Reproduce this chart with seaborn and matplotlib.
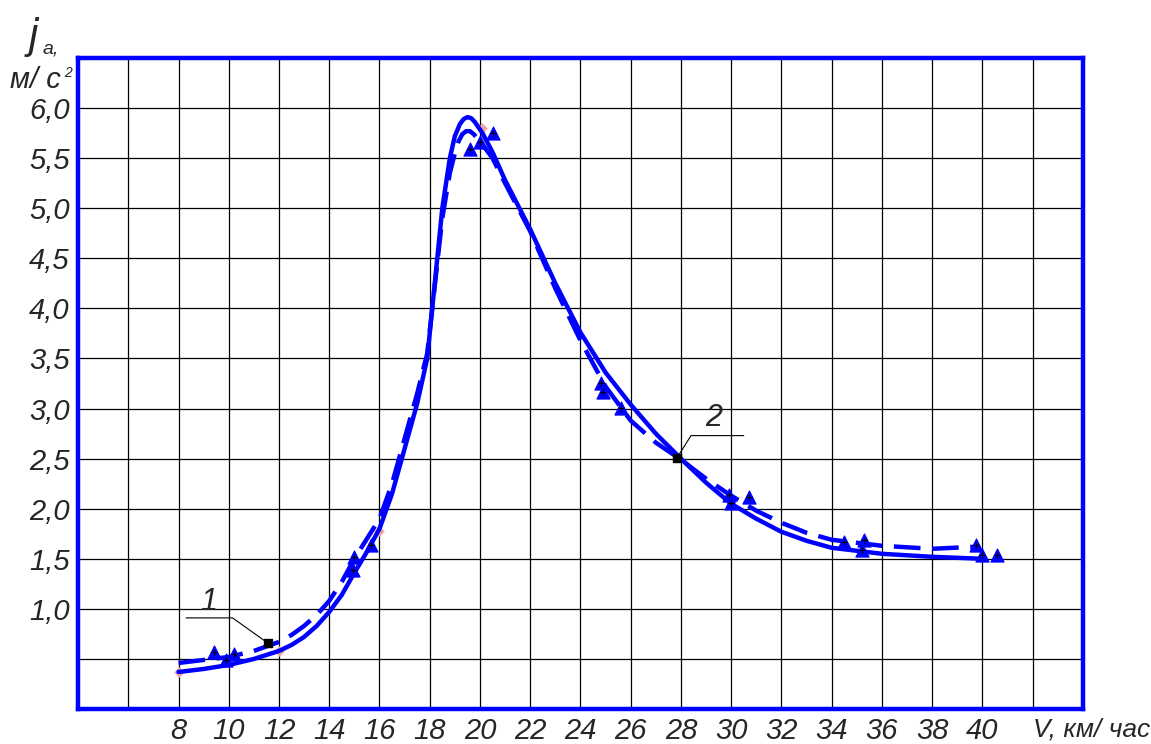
import numpy as np
import pandas as pd
import seaborn as sns
from matplotlib import pyplot as plt

# curve 1 (solid) and curve 2 (dashed): acceleration j_a vs speed V
v_solid = [8, 9, 10, 11, 12, 12.5, 13, 13.5, 14, 14.5, 15, 15.5, 16, 16.5, 17, 17.5, 17.9, 18.1,
           18.3, 18.5, 18.8, 19.0, 19.2, 19.35, 19.5, 19.65, 19.8, 20.1, 20.5, 21, 22, 23, 24,
           25, 26, 27, 28, 29, 30, 31, 32, 33, 34, 36, 38, 40]
j_solid = [0.37, 0.40, 0.44, 0.50, 0.58, 0.64, 0.72, 0.83, 0.97, 1.14, 1.36, 1.57, 1.80, 2.15,
           2.60, 3.05, 3.50, 4.00, 4.50, 5.00, 5.50, 5.72, 5.84, 5.89, 5.91, 5.90, 5.86, 5.75,
           5.56, 5.28, 4.79, 4.25, 3.76, 3.36, 3.04, 2.75, 2.50, 2.26, 2.05, 1.90, 1.77, 1.68,
           1.61, 1.55, 1.52, 1.50]

v_dash = [8, 9, 10, 11, 12, 12.5, 13, 13.5, 14, 14.5, 15, 15.5, 16, 16.5, 17, 17.5, 17.9, 18.1,
          18.3, 18.5, 18.8, 19.0, 19.15, 19.3, 19.45, 19.6, 19.75, 20.0, 20.5, 21, 22, 23, 24,
          25, 26, 27, 28, 29, 30, 31, 32, 33, 34, 36, 38, 39.7]
j_dash = [0.46, 0.49, 0.52, 0.58, 0.67, 0.74, 0.83, 0.94, 1.08, 1.27, 1.50, 1.70, 1.90, 2.25,
          2.70, 3.15, 3.55, 4.00, 4.45, 4.90, 5.35, 5.55, 5.67, 5.74, 5.77, 5.77, 5.74, 5.67,
          5.50, 5.25, 4.77, 4.20, 3.68, 3.22, 2.88, 2.66, 2.49, 2.30, 2.13, 1.98, 1.86, 1.76,
          1.69, 1.63, 1.60, 1.62]

# experimental points
v_exp = [9.4, 9.9, 10.2, 15.0, 14.95, 15.65, 19.6, 20.0, 20.5, 24.8, 24.9, 25.6, 29.9, 30.0,
         30.7, 34.5, 35.3, 35.2, 39.75, 40.0, 40.6]
j_exp = [0.57, 0.49, 0.55, 1.52, 1.39, 1.64, 5.59, 5.66, 5.75, 3.26, 3.17, 3.01, 2.14, 2.06,
         2.12, 1.67, 1.69, 1.59, 1.64, 1.54, 1.54]

# faint reference points on the solid curve
v_ref = [8, 12, 16, 20.1]
j_ref = [0.37, 0.58, 1.78, 5.80]

# curve labels: text, text position, leader points, marked point
lab_text = ["1", "2"]
lab_pos = [(9.2, 1.07), (29.3, 2.91)]
lab_lead = [[(8.3, 0.91), (10.15, 0.91), (11.55, 0.66)],
            [(27.85, 2.51), (28.4, 2.73), (30.5, 2.73)]]
lab_pt = [(11.55, 0.66), (27.85, 2.51)]

x_ticks = list(range(6, 44, 2))
x_labels = [""] + [str(v) for v in range(8, 42, 2)] + ["V, км/ час"]
y_ticks = [0.5, 1, 1.5, 2, 2.5, 3, 3.5, 4, 4.5, 5, 5.5, 6]
y_labels = [""] + ["1,0", "1,5", "2,0", "2,5", "3,0", "3,5", "4,0", "4,5", "5,0", "5,5", "6,0"]

sns.set_theme(style="white")
FONT = ["Liberation Sans Narrow", "Liberation Sans", "DejaVu Sans"]
plt.rcParams["font.family"] = FONT

fig = plt.figure(figsize=(11.51, 7.44), dpi=100)
ax = fig.add_axes([0.0678, 0.047, 0.873, 0.875])

df_s = pd.DataFrame({"V": v_solid, "j": j_solid})
df_d = pd.DataFrame({"V": v_dash, "j": j_dash})
df_e = pd.DataFrame({"V": v_exp, "j": j_exp})

sns.lineplot(data=df_s, x="V", y="j", color="#0000ff", lw=3.2, sort=False, ax=ax, zorder=4)
sns.lineplot(data=df_d, x="V", y="j", color="#0000ff", lw=3.2, sort=False, ax=ax, zorder=4,
             dashes=False, linestyle=(0, (6, 2.6)))
ax.scatter(v_ref, j_ref, marker="D", s=30, color="#f4a3a3", zorder=3, linewidths=0)
sns.scatterplot(data=df_e, x="V", y="j", marker="^", s=90, color="#0000ff", edgecolor="#0000ff",
                ax=ax, zorder=5)
ax.scatter(v_exp, j_exp, marker="+", s=25, color="black", linewidths=0.8, zorder=6)

for txt, pos, lead, pt in zip(lab_text, lab_pos, lab_lead, lab_pt):
    xs, ys = zip(*lead)
    ax.plot(xs, ys, color="black", lw=0.8, zorder=6)
    ax.scatter([pt[0]], [pt[1]], marker="s", s=28, color="black", zorder=7)
    ax.text(pos[0], pos[1], txt, fontsize=22, style="italic", ha="center", va="center",
            family=FONT)

ax.set_xlim(4, 44)
ax.set_ylim(0, 6.5)
ax.set_xticks(x_ticks)
ax.set_xticklabels(x_labels, fontsize=21, style="italic")
ax.set_yticks(y_ticks)
ax.set_yticklabels(y_labels, fontsize=21, style="italic")
ax.get_xticklabels()[-1].set_ha("left")
ax.get_xticklabels()[-1].set_fontsize(19)
ax.tick_params(length=0, pad=6)
ax.set_xlabel("")
ax.set_ylabel("")
ax.grid(True, color="black", lw=0.9)
for s in ax.spines.values():
    s.set_color("#0000ff")
    s.set_linewidth(3.2)

fig.text(0.025, 0.935, "j", fontsize=30, style="italic", family=FONT)
fig.text(0.037, 0.928, "a,", fontsize=14, style="italic", family=FONT)
fig.text(0.009, 0.882, "м/ с", fontsize=21, style="italic", family=FONT)
fig.text(0.056, 0.897, "2", fontsize=10, style="italic", family=FONT)

fig.savefig("out.png", dpi=100)
